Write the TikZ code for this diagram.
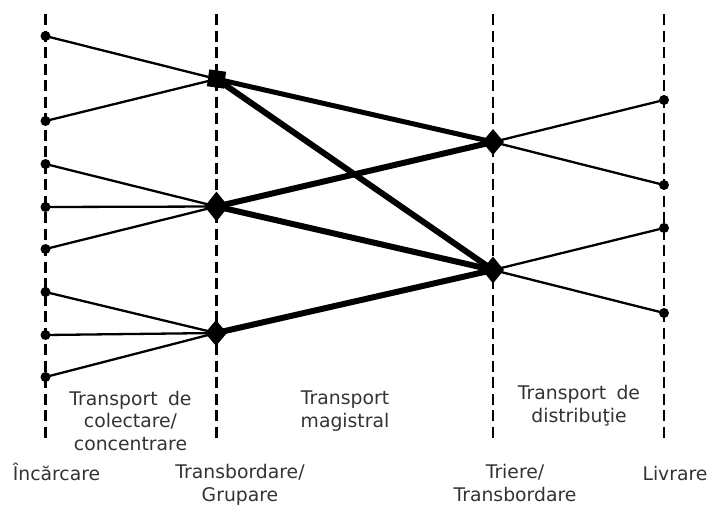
\documentclass[tikz,border=0pt]{standalone}
\usepackage{fontspec}
\setmainfont{DejaVu Sans}
\usetikzlibrary{shapes.geometric}
\begin{document}
\begin{tikzpicture}[x=1pt,y=-1pt,
  guide/.style={line width=2.5pt,dash pattern=on 11pt off 5.5pt},
  thin/.style={line width=2.3pt},
  thick/.style={line width=6pt,line cap=round},
  mid/.style={line width=5pt,line cap=round},
  dot/.style={circle,fill=black,inner sep=0pt,minimum size=10pt},
  hubsq/.style={rectangle,fill=black,inner sep=0pt,minimum size=17pt,rotate=-8},
  hubd/.style={diamond,fill=black,inner sep=0pt,minimum width=24pt,minimum height=30pt},
  lbl/.style={text=black!80,font=\fontsize{18.8}{22.5}\selectfont,align=center,inner sep=0pt,anchor=base}
]
\useasboundingbox (0,0) rectangle (708,504);
% guide lines
\coordinate (g1t) at (45.5,14);  \coordinate (g1b) at (45.5,438);
\coordinate (g2t) at (216.5,14); \coordinate (g2b) at (216.5,438);
\coordinate (g3t) at (493,14);   \coordinate (g3b) at (493,438);
\coordinate (g4t) at (664,14);   \coordinate (g4b) at (664,438);
\draw[guide] (g1t) -- (g1b);
\draw[guide] (g2t) -- (g2b);
\draw[guide] (g3t) -- (g3b);
\draw[guide] (g4t) -- (g4b);
% hubs
\node[hubsq] (S) at (216.5,79) {};
\node[hubd] (D1) at (216.5,206.5) {};
\node[hubd,minimum width=22pt,minimum height=26pt] (D2) at (216,333) {};
\node[hubd,minimum width=22pt,minimum height=26pt] (D3) at (493,142) {};
\node[hubd,minimum width=22pt,minimum height=27pt] (D4) at (493,270) {};
% left dots
\foreach \n/\y in {1/36,2/121,3/164,4/207,5/249,6/292,7/335,8/377}
  \node[dot] (L\n) at (45.5,\y) {};
% right dots
\foreach \n/\y in {1/100,2/185,3/228,4/313}
  \node[dot] (R\n) at (664,\y) {};
% collection
\draw[thin] (L1.center) -- (S.center);
\draw[thin] (L2.center) -- (S.center);
\draw[thin] (L3.center) -- (D1.center);
\draw[thin] (L4.center) -- (D1.center);
\draw[thin] (L5.center) -- (D1.center);
\draw[thin] (L6.center) -- (D2.center);
\draw[thin] (L7.center) -- (D2.center);
\draw[thin] (L8.center) -- (D2.center);
% trunk
\draw[mid] (S.center) -- (D3.center);
\draw[thick] (S.center) -- (D4.center);
\draw[thick] (D1.center) -- (D3.center);
\draw[thick] (D1.center) -- (D4.center);
\draw[thick] (D2.center) -- (D4.center);
% distribution
\draw[thin] (D3.center) -- (R1.center);
\draw[thin] (D3.center) -- (R2.center);
\draw[thin] (D4.center) -- (R3.center);
\draw[thin] (D4.center) -- (R4.center);
% labels (base anchor = baseline of last line)
\node[lbl] (t1) at (130.5,450) {Transport\hspace{0.55em}de\\colectare/\\concentrare};
\node[lbl] (t2) at (345,427) {Transport\\magistral};
\node[lbl] (t3) at (579,422) {Transport\hspace{0.55em}de\\distribuţie};
\node[lbl] (b1) at (56.5,480) {Încărcare};
\node[lbl] (b2) at (240,501) {Transbordare/\\Grupare};
\node[lbl] (b3) at (515,501) {Triere/\\Transbordare};
\node[lbl] (b4) at (675,480) {Livrare};
\end{tikzpicture}
\end{document}
